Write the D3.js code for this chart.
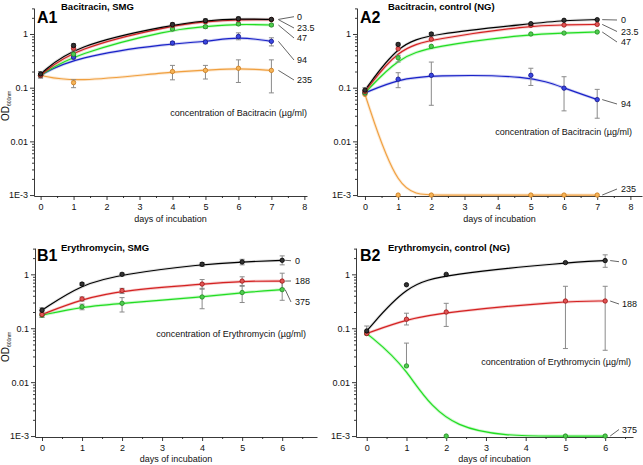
<!DOCTYPE html>
<html><head><meta charset="utf-8">
<script src="https://cdn.jsdelivr.net/npm/d3@7"></script>
<style>
body{margin:0;background:#fff}
text{font-family:"Liberation Sans",Arial,Helvetica,sans-serif}
</style>
</head><body>
<script>
// ---------------- DATA ----------------
const concA = ["0", "23.5", "47", "94", "235"];
const concB = ["0", "188", "375"];
const yTickValues = [0.001, 0.01, 0.1, 1];
const yTickLabels = ["1E-3", "0.01", "0.1", "1"];

const daysA1 = [0, 1, 4, 5, 6, 7];
const daysA2 = [0, 1, 2, 5, 6, 7];
const daysB1 = [0, 1, 2, 4, 5, 6];
const daysB2 = [0, 1, 2, 5, 6];

// A1 Bacitracin, SMG
const A1_0    = [0.18, 0.61, 1.50, 1.77, 1.93, 1.87];
const A1_23_5 = [0.17, 0.54, 1.45, 1.70, 1.85, 1.85];
const A1_47   = [0.17, 0.42, 1.24, 1.37, 1.54, 1.47];
const A1_94   = [0.17, 0.37, 0.68, 0.71, 0.90, 0.73];
const A1_235  = [0.17, 0.124, 0.20, 0.21, 0.23, 0.21];
const A1_0_err    = [[0.155, 0.20], [0.55, 0.66], [1.40, 1.62], [1.60, 1.92], [1.80, 2.08], [1.78, 1.96]];
const A1_23_5_err = [null, [0.50, 0.58], null, null, null, null];
const A1_47_err   = [null, [0.38, 0.46], [1.15, 1.32], [1.28, 1.45], [1.45, 1.62], [1.40, 1.54]];
const A1_94_err   = [null, [0.34, 0.40], [0.62, 0.72], [0.66, 0.77], [0.78, 1.05], [0.60, 0.85]];
const A1_235_err  = [[0.15, 0.20], [0.10, 0.14], [0.14, 0.26], [0.145, 0.26], [0.125, 0.33], [0.08, 0.33]];

// A2 Bacitracin, control (NG)
const A2_0    = [0.09, 0.64, 1.00, 1.56, 1.80, 1.85];
const A2_23_5 = [0.085, 0.53, 0.80, 1.45, 1.47, 1.51];
const A2_47   = [0.08, 0.36, 0.59, 1.00, 1.04, 1.09];
const A2_94   = [0.08, 0.144, 0.17, 0.17, 0.098, 0.06];
const A2_235  = [0.075, 0.001, 0.001, 0.001, 0.001, 0.001];
const A2_0_err    = [[0.08, 0.10], [0.60, 0.68], [0.92, 1.06], null, null, null];
const A2_23_5_err = [null, null, null, null, null, null];
const A2_47_err   = [null, [0.30, 0.40], null, null, null, null];
const A2_94_err   = [null, [0.10, 0.19], [0.047, 0.30], [0.11, 0.23], [0.037, 0.16], [0.027, 0.093]];
const A2_235_err  = [null, null, null, null, null, null];

// B1 Erythromycin, SMG
const B1_0   = [0.216, 0.66, 1.00, 1.54, 1.70, 1.82];
const B1_188 = [0.18, 0.35, 0.50, 0.66, 0.75, 0.75];
const B1_375 = [0.175, 0.25, 0.29, 0.38, 0.46, 0.52];
const B1_0_err   = [[0.19, 0.24], [0.62, 0.70], [0.94, 1.06], [1.40, 1.65], [1.50, 1.90], [1.50, 2.20]];
const B1_188_err = [[0.16, 0.20], [0.32, 0.38], [0.44, 0.55], [0.53, 0.80], [0.60, 0.90], [0.55, 1.05]];
const B1_375_err = [[0.16, 0.19], [0.22, 0.28], [0.20, 0.37], [0.23, 0.55], [0.30, 0.62], [0.33, 0.72]];

// B2 Erythromycin, control (NG)
const B2_0   = [0.089, 0.64, 1.00, 1.65, 1.80];
const B2_188 = [0.08, 0.147, 0.20, 0.32, 0.32];
const B2_375 = [0.08, 0.02, 0.001, 0.001, 0.001];
const B2_0_err   = [[0.075, 0.11], null, null, null, [1.35, 2.30]];
const B2_188_err = [null, [0.115, 0.19], [0.108, 0.29], [0.042, 0.60], [0.039, 0.60]];
const B2_375_err = [null, [0.02, 0.053], null, null, null];

// ---------------- STYLE / LAYOUT ----------------
const colorsA = [
  {line: "#000000", fill: "#333333", stroke: "#000000", glow: 0.12},
  {line: "#d42222", fill: "#e05555", stroke: "#a01515", glow: 0.22},
  {line: "#22dd22", fill: "#4fcc4f", stroke: "#1f8a1f", glow: 0.22},
  {line: "#1a22c8", fill: "#3a48e0", stroke: "#10108e", glow: 0.2},
  {line: "#f0a040", fill: "#f5b458", stroke: "#cc7a1a", glow: 0.22}
];
const colorsB = colorsA.slice(0, 3);

const panels = [
  {label: "A1", title: "Bacitracin, SMG", days: daysA1, conc: concA, colors: colorsA,
   series: [A1_0, A1_23_5, A1_47, A1_94, A1_235],
   errs: [A1_0_err, A1_23_5_err, A1_47_err, A1_94_err, A1_235_err],
   note: "concentration of Bacitracin (\u00b5g/ml)",
   xDom: [-0.2, 8.08], xRange: [34, 307], xTicks: 8,
   yDom: [0.00096, 3.05], yRange: [196, 8], ylabel: true, ylabelY: 121,
   labelX: 297, labelYs: [16.7, 28, 38, 60, 80], leadStart: 7, leadEnd: 294,
   noteX: 307, noteY: 116, titleX: 37, titleY: 23, title2X: 61, title2Y: 10, xTitleY: 222},
  {label: "A2", title: "Bacitracin, control (NG)", days: daysA2, conc: concA, colors: colorsA,
   series: [A2_0, A2_23_5, A2_47, A2_94, A2_235],
   errs: [A2_0_err, A2_23_5_err, A2_47_err, A2_94_err, A2_235_err],
   note: "concentration of Bacitracin (\u00b5g/ml)",
   xDom: [-0.24, 8.35], xRange: [357, 642], xTicks: 8,
   yDom: [0.00096, 3.05], yRange: [196, 8], ylabel: false,
   labelX: 621, labelYs: [20, 31.5, 42, 104, 189], leadStart: 5, leadEnd: 617,
   noteX: 632, noteY: 135, titleX: 360, titleY: 23, title2X: 388, title2Y: 10, xTitleY: 222},
  {label: "B1", title: "Erythromycin, SMG", days: daysB1, conc: concB, colors: colorsB,
   series: [B1_0, B1_188, B1_375],
   errs: [B1_0_err, B1_188_err, B1_375_err],
   note: "concentration of Erythromycin (\u00b5g/ml)",
   xDom: [-0.175, 6.87], xRange: [35, 317], xTicks: 6,
   yDom: [0.00096, 3.08], yRange: [437, 248], ylabel: true, ylabelY: 362,
   labelX: 295, labelYs: [260.7, 281, 302], leadStart: 3, leadEnd: 291,
   noteX: 306, noteY: 337, titleX: 37, titleY: 261, title2X: 61, title2Y: 251, xTitleY: 462},
  {label: "B2", title: "Erythromycin, control (NG)", days: daysB2, conc: concB, colors: colorsB,
   series: [B2_0, B2_188, B2_375],
   errs: [B2_0_err, B2_188_err, B2_375_err],
   note: "concentration of Erythromycin (\u00b5g/ml)",
   xDom: [-0.27, 6.7], xRange: [356, 633], xTicks: 6,
   yDom: [0.00096, 3.08], yRange: [437, 248], ylabel: false,
   labelX: 622, labelYs: [261.7, 304, 429.5], leadStart: 5, leadEnd: 619,
   noteX: 631, noteY: 365, titleX: 360, titleY: 261, title2X: 388, title2Y: 251, xTitleY: 462}
];

const svg = d3.select("body").append("svg").attr("width", 643).attr("height", 465);

function minorLog(lo, hi) {
  const out = [];
  for (let e = -3; e <= 0; e++) {
    for (let k = 2; k <= 9; k++) {
      const v = k * Math.pow(10, e);
      if (v >= lo && v <= hi) out.push(v);
    }
  }
  return out;
}

panels.forEach(p => {
  const g = svg.append("g");
  const x = d3.scaleLinear().domain(p.xDom).range(p.xRange);
  const y = d3.scaleLog().domain(p.yDom).range(p.yRange);
  const x0 = p.xRange[0], yb = p.yRange[0];

  // Y axis
  const yAxis = d3.axisLeft(y).tickValues(yTickValues)
    .tickFormat((d, i) => yTickLabels[i]).tickSize(4).tickSizeOuter(0).tickPadding(2);
  const ya = g.append("g").attr("transform", `translate(${x0},0)`).call(yAxis);
  ya.selectAll("text").attr("font-size", 9).attr("fill", "#111");
  const yMinor = d3.axisLeft(y).tickValues(minorLog(p.yDom[0], p.yDom[1])).tickFormat("").tickSize(2).tickSizeOuter(0);
  const ym = g.append("g").attr("transform", `translate(${x0},0)`).call(yMinor);
  ym.select(".domain").remove();

  // X axis
  const xAxis = d3.axisBottom(x).tickValues(d3.range(0, p.xTicks + 1)).tickFormat(d3.format("d"))
    .tickSize(4).tickSizeOuter(0).tickPadding(4);
  const xa = g.append("g").attr("transform", `translate(0,${yb})`).call(xAxis);
  xa.selectAll("text").attr("font-size", 9).attr("fill", "#111");
  const halfTicks = d3.range(0.5, p.xDom[1], 1);
  const xMinor = d3.axisBottom(x).tickValues(halfTicks).tickFormat("").tickSize(2).tickSizeOuter(0);
  const xm = g.append("g").attr("transform", `translate(0,${yb})`).call(xMinor);
  xm.select(".domain").remove();
  g.selectAll(".domain, .tick line").attr("stroke", "#222").attr("stroke-width", 0.9);

  // X title
  g.append("text").attr("x", (p.xRange[0] + p.xRange[1]) / 2).attr("y", p.xTitleY)
    .attr("text-anchor", "middle").attr("font-size", 9).attr("fill", "#111").text("days of incubation");

  // Y title
  if (p.ylabel) {
    const t = g.append("text").attr("transform", `translate(9,${p.ylabelY}) rotate(-90)`)
      .attr("font-size", 10).attr("fill", "#111");
    t.append("tspan").text("OD");
    t.append("tspan").attr("font-size", 5).attr("dy", 2).text("600nm");
  }

  // Titles
  g.append("text").attr("x", p.titleX).attr("y", p.titleY).attr("font-size", 16)
    .attr("font-weight", "bold").attr("fill", "#000").text(p.label);
  g.append("text").attr("x", p.title2X).attr("y", p.title2Y).attr("font-size", 9.5)
    .attr("font-weight", "bold").attr("fill", "#000").text(p.title);

  // Note
  g.append("text").attr("x", p.noteX).attr("y", p.noteY).attr("text-anchor", "end")
    .attr("font-size", 9).attr("fill", "#111").text(p.note);

  const line = d3.line().curve(d3.curveBasis).x(d => x(d[0])).y(d => y(d[1]));

  for (let si = p.series.length - 1; si >= 0; si--) {
    const vals = p.series[si];
    const pts = p.days.map((d, i) => [d, vals[i]]);
    const c = p.colors[si];
    g.append("path").datum(pts).attr("d", line).attr("fill", "none")
      .attr("stroke", c.line).attr("stroke-width", 3).attr("stroke-opacity", c.glow);
    g.append("path").datum(pts).attr("d", line).attr("fill", "none")
      .attr("stroke", c.line).attr("stroke-width", 1.2);
  }
  for (let si = p.series.length - 1; si >= 0; si--) {
    const errs = p.errs[si];
    p.days.forEach((d, i) => {
      const e = errs[i];
      if (!e) return;
      const xx = x(d);
      g.append("line").attr("x1", xx).attr("x2", xx).attr("y1", y(e[0])).attr("y2", y(e[1]))
        .attr("stroke", "#8a8a8a").attr("stroke-width", 1);
      [e[0], e[1]].forEach(v => {
        g.append("line").attr("x1", xx - 2.5).attr("x2", xx + 2.5).attr("y1", y(v)).attr("y2", y(v))
          .attr("stroke", "#8a8a8a").attr("stroke-width", 1);
      });
    });
  }
  for (let si = p.series.length - 1; si >= 0; si--) {
    const vals = p.series[si];
    const c = p.colors[si];
    p.days.forEach((d, i) => {
      g.append("circle").attr("cx", x(d)).attr("cy", y(vals[i])).attr("r", 2.2)
        .attr("fill", c.fill).attr("stroke", c.stroke).attr("stroke-width", 0.8);
    });
  }

  const lastDay = p.days[p.days.length - 1];
  p.series.forEach((vals, si) => {
    const ly = p.labelYs[si];
    const sx = x(lastDay) + p.leadStart;
    const sy = y(vals[vals.length - 1]);
    g.append("line").attr("x1", sx).attr("y1", sy).attr("x2", p.leadEnd).attr("y2", ly)
      .attr("stroke", "#222").attr("stroke-width", 0.7);
    g.append("text").attr("x", p.labelX).attr("y", ly + 3.3).attr("font-size", 9)
      .attr("fill", "#111").text(p.conc[si]);
  });
});
</script>
</body></html>
